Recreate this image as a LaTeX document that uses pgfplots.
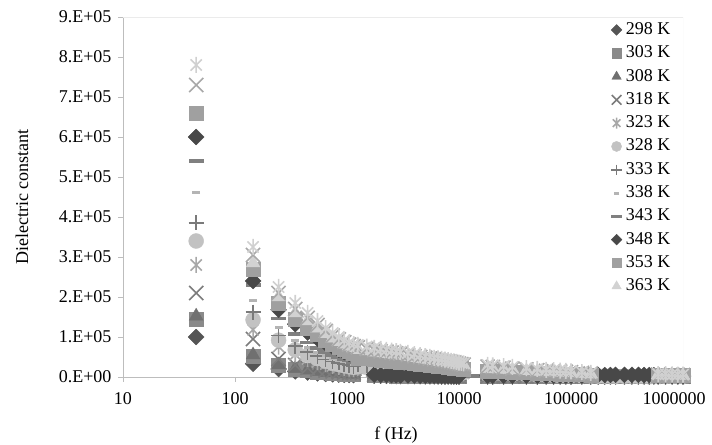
\documentclass[border=0pt]{standalone}
\usepackage{fontspec}
\setmainfont{Liberation Serif}
\usepackage{pgfplots}
\usepackage{pgfplotstable}
\pgfplotsset{compat=1.18}
\usetikzlibrary{plotmarks}

\pgfdeclareplotmark{xstar}{%
  \pgfpathmoveto{\pgfqpoint{-.7\pgfplotmarksize}{-.7\pgfplotmarksize}}%
  \pgfpathlineto{\pgfqpoint{.7\pgfplotmarksize}{.7\pgfplotmarksize}}%
  \pgfpathmoveto{\pgfqpoint{-.7\pgfplotmarksize}{.7\pgfplotmarksize}}%
  \pgfpathlineto{\pgfqpoint{.7\pgfplotmarksize}{-.7\pgfplotmarksize}}%
  \pgfpathmoveto{\pgfqpoint{0pt}{-\pgfplotmarksize}}%
  \pgfpathlineto{\pgfqpoint{0pt}{\pgfplotmarksize}}%
  \pgfusepathqstroke}

\definecolor{c298}{HTML}{555555}
\definecolor{c303}{HTML}{8A8A8A}
\definecolor{c308}{HTML}{707070}
\definecolor{c318}{HTML}{7C7C7C}
\definecolor{c323}{HTML}{A8A8A8}
\definecolor{c328}{HTML}{C2C2C2}
\definecolor{c333}{HTML}{7A7A7A}
\definecolor{c338}{HTML}{B4B4B4}
\definecolor{c343}{HTML}{808080}
\definecolor{c348}{HTML}{484848}
\definecolor{c353}{HTML}{A0A0A0}
\definecolor{c363}{HTML}{D2D2D2}
\definecolor{cA}{HTML}{A8A8A8}
\definecolor{cB}{HTML}{D0D0D0}
\definecolor{axisgray}{HTML}{BDBDBD}
\definecolor{framegray}{HTML}{EBEBEB}

% dielectric constant in units of 1E+05
\pgfplotstableread{
f       s298  s303  s308  s318  s323  s328  s333  s338  s343  s348  s353  s363  sA    sB
45      1.00  1.45  1.52  2.10  2.80  3.40  3.85  4.60  5.40  6.00  6.60  nan   7.30  7.80
145     0.33  0.52  0.55  0.95  1.18  1.43  1.62  1.90  2.30  2.40  2.70  2.85  3.05  3.25
245     0.20  0.29  0.30  0.45  0.76  0.92  1.04  1.24  1.46  1.68  1.85  2.00  2.10  2.25
345     0.14  0.20  0.21  0.30  0.56  0.68  0.77  0.92  1.08  1.32  1.45  1.60  1.70  1.85
445     0.11  0.16  0.17  0.23  0.45  0.54  0.62  0.74  0.86  1.11  1.22  1.40  1.48  1.60
545     0.09  0.13  0.14  0.19  0.38  0.46  0.52  0.62  0.73  0.96  1.06  1.22  1.30  1.40
645     0.075 0.11  0.115 0.16  0.32  0.39  0.44  0.53  0.62  0.84  0.92  1.08  1.15  1.22
745     0.065 0.094 0.10  0.14  0.28  0.34  0.39  0.46  0.54  0.75  0.83  0.97  1.03  1.10
845     0.058 0.084 0.088 0.12  0.25  0.31  0.35  0.41  0.49  0.68  0.75  0.88  0.94  1.00
945     0.052 0.075 0.079 0.11  0.23  0.28  0.32  0.38  0.44  0.62  0.69  0.82  0.87  0.92
1045    0.048 0.070 0.073 0.10  0.21  0.26  0.29  0.35  0.41  0.58  0.64  0.77  0.81  0.86
1145    0.045 0.065 0.068 0.095 0.20  0.24  0.27  0.32  0.38  0.55  0.60  0.73  0.77  0.82
1250    nan   nan   nan   nan   0.22  0.26  0.30  0.36  nan   nan   0.48  0.68  0.74  0.80
1500    nan   nan   nan   nan   0.21  0.24  0.29  0.34  nan   nan   0.46  0.65  0.70  0.76
1750    0.03  0.04  0.045 0.06  0.20  0.23  0.28  0.33  0.05  0.06  0.44  0.62  0.67  0.73
2000    0.03  0.04  0.04  0.055 0.19  0.22  0.27  0.32  0.05  0.05  0.42  0.60  0.64  0.70
2250    0.028 0.038 0.04  0.052 0.18  0.22  0.26  0.31  0.048 0.05  0.41  0.58  0.63  0.68
2500    0.025 0.035 0.035 0.05  0.18  0.21  0.25  0.30  0.045 0.045 0.40  0.56  0.61  0.66
2750    0.022 0.032 0.032 0.048 0.17  0.21  0.25  0.29  0.042 0.042 0.39  0.55  0.59  0.645
3000    0.02  0.03  0.03  0.045 0.17  0.20  0.24  0.28  0.04  0.04  0.38  0.54  0.58  0.63
3500    0.02  0.028 0.028 0.042 0.16  0.19  0.23  0.27  0.038 0.038 0.36  0.51  0.55  0.60
4000    0.02  0.025 0.025 0.04  0.15  0.18  0.22  0.26  0.035 0.035 0.34  0.48  0.52  0.57
4500    0.018 0.022 0.022 0.038 0.15  0.17  0.21  0.25  0.032 0.032 0.33  0.46  0.50  0.545
5000    0.015 0.02  0.02  0.035 0.14  0.17  0.20  0.23  0.03  0.03  0.31  0.44  0.48  0.52
5500    0.015 0.02  0.02  0.032 0.135 0.16  0.19  0.225 0.03  0.03  0.30  0.425 0.46  0.50
6000    0.015 0.02  0.02  0.03  0.13  0.15  0.18  0.22  0.03  0.03  0.29  0.41  0.44  0.48
6500    0.012 0.02  0.02  0.03  0.125 0.15  0.18  0.21  0.028 0.028 0.28  0.40  0.43  0.465
7000    0.01  0.02  0.02  0.03  0.12  0.14  0.17  0.20  0.025 0.025 0.27  0.38  0.41  0.45
7500    0.01  0.018 0.018 0.028 0.12  0.14  0.165 0.20  0.025 0.025 0.26  0.37  0.40  0.435
8000    0.01  0.015 0.015 0.025 0.11  0.13  0.16  0.19  0.025 0.025 0.25  0.36  0.39  0.42
8500    0.01  0.015 0.015 0.025 0.11  0.13  0.155 0.18  0.022 0.022 0.24  0.34  0.37  0.405
9000    0.01  0.015 0.015 0.025 0.105 0.125 0.15  0.175 0.02  0.02  0.23  0.33  0.36  0.39
9500    0.01  0.015 0.015 0.022 0.10  0.12  0.14  0.17  0.02  0.02  0.225 0.32  0.345 0.375
10000   0.01  0.015 0.015 0.02  0.10  0.115 0.14  0.16  0.02  0.02  0.215 0.31  0.33  0.36
10500   nan   nan   nan   nan   0.095 0.11  0.13  0.16  0.02  nan   0.21  0.30  0.32  0.35
11000   nan   nan   nan   nan   0.09  0.11  0.13  0.15  0.02  nan   0.20  0.29  0.31  0.34
13000   nan   nan   nan   nan   nan   nan   nan   nan   0.02  nan   nan   nan   nan   nan
15000   nan   nan   nan   nan   nan   nan   nan   nan   0.02  nan   nan   nan   nan   nan
18000   0.01  0.01  0.01  0.015 0.06  0.075 0.09  0.12  0.02  0.03  0.15  0.21  0.26  0.30
20000   0.01  0.01  0.01  0.015 0.06  0.07  0.09  0.115 0.02  0.03  0.145 0.20  0.25  0.29
25000   0.01  0.01  0.01  0.015 0.055 0.07  0.08  0.11  0.02  0.03  0.135 0.19  0.23  0.27
30000   0.01  0.01  0.01  0.015 0.05  0.065 0.075 0.10  0.02  0.03  0.125 0.175 0.21  0.25
40000   0.01  0.01  0.01  0.015 0.045 0.055 0.065 0.09  0.02  0.03  0.11  0.155 0.19  0.22
50000   0.01  0.01  0.01  0.015 0.04  0.05  0.06  0.08  0.02  0.03  0.10  0.14  0.17  0.20
60000   0.01  0.01  0.01  0.015 0.035 0.045 0.055 0.07  0.02  0.03  0.09  0.125 0.155 0.18
70000   0.01  0.01  0.01  0.015 0.035 0.04  0.05  0.07  0.02  0.03  0.085 0.12  0.145 0.17
80000   0.01  0.01  0.01  0.015 0.03  0.04  0.05  0.065 0.02  0.03  0.08  0.11  0.135 0.16
90000   0.01  0.01  0.01  0.015 0.03  0.04  0.045 0.06  0.02  0.03  0.075 0.105 0.13  0.15
100000  0.01  0.01  0.01  0.015 0.03  0.035 0.04  0.055 0.02  0.03  0.07  0.10  0.12  0.14
125000  0.01  0.01  0.01  0.015 0.025 0.03  0.035 0.05  0.02  0.03  0.06  0.085 0.10  0.12
150000  0.01  0.01  0.01  0.015 0.02  0.025 0.03  0.04  0.02  0.04  0.05  0.07  0.085 0.10
175000  0.01  0.01  0.01  0.015 0.02  0.025 0.03  0.035 0.02  0.05  nan   nan   nan   nan
200000  0.01  0.01  0.01  0.015 0.02  0.025 0.025 0.03  0.02  0.05  nan   nan   nan   nan
225000  0.01  0.01  0.01  0.015 0.02  0.025 0.025 0.03  0.02  0.05  nan   nan   nan   nan
250000  0.01  0.01  0.01  0.015 0.02  0.02  0.025 0.03  0.02  0.055 nan   nan   nan   nan
300000  0.01  0.01  0.01  0.01  0.02  0.02  0.02  0.025 0.02  0.055 nan   nan   nan   nan
350000  0.01  0.01  0.01  0.01  0.02  0.02  0.02  0.025 0.02  0.055 nan   nan   nan   nan
400000  0.01  0.01  0.01  0.01  0.02  0.02  0.02  0.02  0.02  0.055 nan   nan   nan   nan
450000  0.01  0.01  0.01  0.01  0.02  0.02  0.02  0.02  0.02  0.05  nan   nan   nan   nan
500000  0.01  0.01  0.01  0.01  0.02  0.02  0.02  0.02  0.02  0.05  nan   nan   nan   nan
550000  0.01  0.01  0.01  0.01  0.02  0.02  0.02  0.02  0.02  0.045 nan   nan   nan   nan
600000  0.01  0.01  0.01  0.01  0.02  0.02  0.02  0.02  0.02  0.03  0.04  0.05  0.06  0.07
700000  0.01  0.01  0.01  0.01  0.02  0.02  0.02  0.02  0.02  0.03  0.04  0.045 0.06  0.07
800000  0.01  0.01  0.01  0.01  0.02  0.02  0.02  0.02  0.02  0.03  0.04  0.04  0.055 0.065
900000  0.01  0.01  0.01  0.01  0.02  0.02  0.02  0.02  0.02  0.03  0.04  0.04  0.05  0.06
1000000 0.01  0.01  0.01  0.01  0.02  0.02  0.02  0.02  0.02  0.03  0.04  0.04  0.05  0.06
}\data

\newcommand{\bigfont}{\fontsize{18}{21}\selectfont}

\begin{document}
\begin{tikzpicture}
\begin{axis}[
  scale only axis, width=560pt, height=360pt,
  xmode=log, xmin=10, xmax=1000000, ymin=0, ymax=9,
  xtick={10,100,1000,10000,100000},
  xticklabels={10,100,1000,10000,100000},
  extra x ticks={1000000},
  extra x tick labels={1000000},
  extra x tick style={xticklabel style={xshift=-9pt}},
  xminorticks=false,
  ytick={0,1,2,3,4,5,6,7,8,9},
  yticklabels={0.E+00,1.E+05,2.E+05,3.E+05,4.E+05,5.E+05,6.E+05,7.E+05,8.E+05,9.E+05},
  axis lines*=left,
  axis line style={draw=axisgray, line width=0.9pt},
  tick align=outside, major tick length=5pt,
  tick style={draw=axisgray, line width=0.9pt},
  every tick label/.append style={font=\bigfont, text=black},
  xticklabel style={yshift=-7pt},
  yticklabel style={xshift=-3pt},
  xlabel={f (Hz)}, ylabel={Dielectric constant},
  every axis y label/.style={at={(axis description cs:0,0.5)}, anchor=center, xshift=-101pt, rotate=90, font=\bigfont},
  every axis x label/.style={at={(axis description cs:0.5,0)}, anchor=center, yshift=-58pt, xshift=-7pt, font=\bigfont},
  only marks,
  clip marker paths=false,
  legend style={at={(rel axis cs:0.8714,0.991)}, anchor=north west, draw=none, fill=none,
    font=\bigfont, inner sep=0pt, row sep=4.3pt,
    nodes={inner sep=1pt, text height=13pt, text depth=4pt},
    /tikz/every odd column/.style={column sep=3pt}},
  legend cell align=left,
  legend image code/.code={%
    \tikzset{every mark/.append style={scale=0.68}}%
    \draw[mark repeat=2,mark phase=2] plot coordinates {(0pt,0pt)(6pt,0pt)(12pt,0pt)};},
]
\coordinate (SW) at (rel axis cs:0,0);
\coordinate (NE) at (rel axis cs:1,1);
\draw[framegray, line width=0.9pt] (rel axis cs:0,1) -- (rel axis cs:1,1) -- (rel axis cs:1,0);

\addplot[color=c298, mark=square*, mark size=5.6pt, mark options={rotate=45}] table[x=f,y=s298]{\data};
\addlegendentry{298 K}
\addplot[color=c303, mark=square*, mark size=7pt] table[x=f,y=s303]{\data};
\addlegendentry{303 K}
\addplot[color=c308, mark=triangle*, mark size=8pt] table[x=f,y=s308]{\data};
\addlegendentry{308 K}
\addplot[color=c318, mark=x, mark size=10pt, mark options={line width=1.6pt}] table[x=f,y=s318]{\data};
\addlegendentry{318 K}
\addplot[color=c323, mark=xstar, mark size=8pt, mark options={line width=1.6pt}] table[x=f,y=s323]{\data};
\addlegendentry{323 K}
\addplot[color=c328, mark=*, mark size=7.5pt] table[x=f,y=s328]{\data};
\addlegendentry{328 K}
\addplot[color=c333, mark=+, mark size=7.5pt, mark options={line width=1.6pt}] table[x=f,y=s333]{\data};
\addlegendentry{333 K}
\addplot[color=c338, mark=-, mark size=4pt, mark options={line width=3pt}] table[x=f,y=s338]{\data};
\addlegendentry{338 K}
\addplot[color=c343, mark=-, mark size=7.5pt, mark options={line width=3.5pt}] table[x=f,y=s343]{\data};
\addlegendentry{343 K}
\addplot[color=c348, mark=square*, mark size=5.6pt, mark options={rotate=45}] table[x=f,y=s348]{\data};
\addlegendentry{348 K}
\addplot[color=c353, mark=square*, mark size=7pt] table[x=f,y=s353]{\data};
\addlegendentry{353 K}
\addplot[color=c363, mark=triangle*, mark size=8pt] table[x=f,y=s363]{\data};
\addlegendentry{363 K}
\addplot[forget plot, color=cA, mark=x, mark size=10pt, mark options={line width=1.6pt}] table[x=f,y=sA]{\data};
\addplot[forget plot, color=cB, mark=xstar, mark size=8pt, mark options={line width=1.6pt}] table[x=f,y=sB]{\data};
\end{axis}
\pgfresetboundingbox
\path ([xshift=-123pt,yshift=-68pt]SW) rectangle ([xshift=29pt,yshift=17pt]NE);
\end{tikzpicture}
\end{document}
